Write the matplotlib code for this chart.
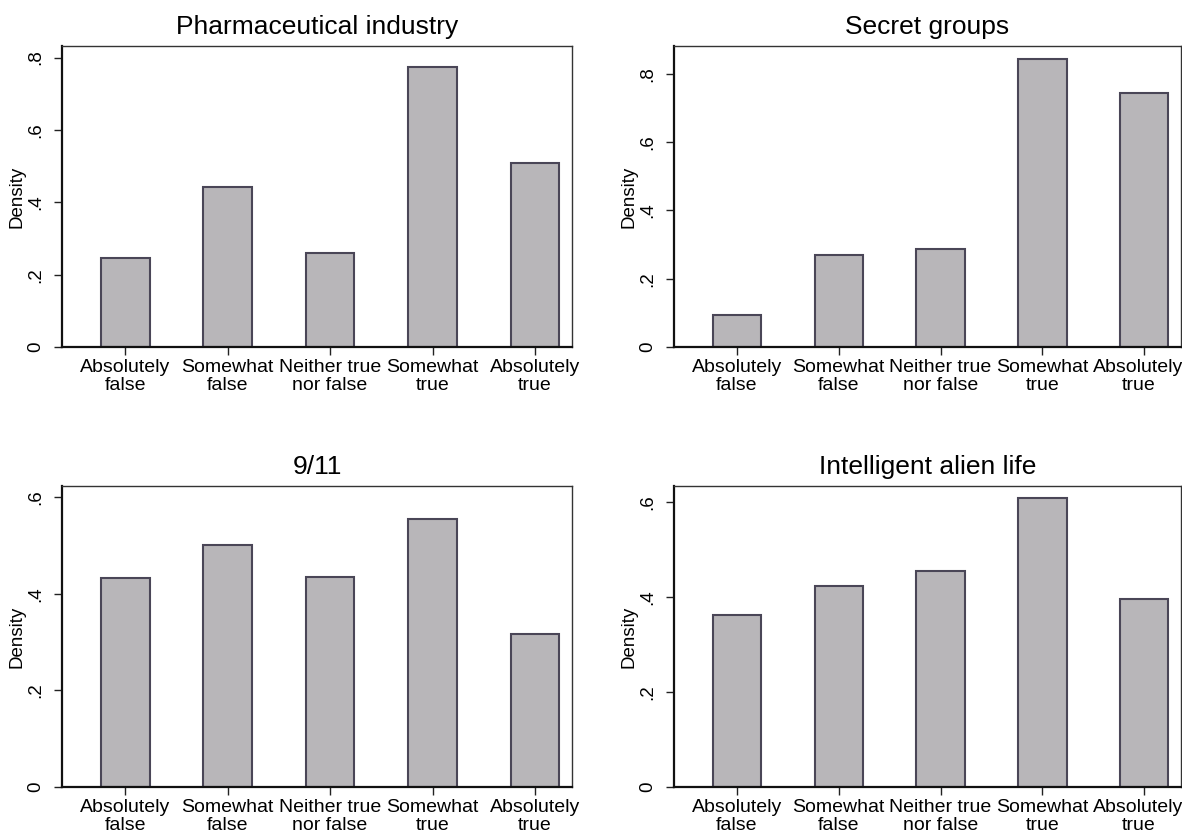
import matplotlib
matplotlib.use("Agg")
import matplotlib.pyplot as plt
from matplotlib.transforms import ScaledTranslation

plt.rcParams["font.family"] = ["Liberation Sans", "DejaVu Sans"]

# ------------------------------------------------------------------
# Data
# ------------------------------------------------------------------
categories = ["Absolutely\nfalse", "Somewhat\nfalse", "Neither true\nnor false",
              "Somewhat\ntrue", "Absolutely\ntrue"]
positions = [1, 2, 3, 4, 5]

titles = ["Pharmaceutical industry", "Secret groups", "9/11", "Intelligent alien life"]
pharma = [0.247, 0.443, 0.260, 0.775, 0.509]
secret = [0.094, 0.269, 0.288, 0.844, 0.744]
nine_eleven = [0.433, 0.501, 0.435, 0.554, 0.317]
alien = [0.363, 0.423, 0.455, 0.608, 0.397]

y_ticks = [[0, 0.2, 0.4, 0.6, 0.8], [0, 0.2, 0.4, 0.6, 0.8],
           [0, 0.2, 0.4, 0.6], [0, 0.2, 0.4, 0.6]]
y_tick_labels = [["0", ".2", ".4", ".6", ".8"], ["0", ".2", ".4", ".6", ".8"],
                 ["0", ".2", ".4", ".6"], ["0", ".2", ".4", ".6"]]
y_max = [0.832, 0.881, 0.623, 0.634]

# ------------------------------------------------------------------
# Layout (pixel boxes converted to figure fractions)
# ------------------------------------------------------------------
W, H = 1182, 832
boxes = [  # left, right, top, bottom in pixels
    (62, 572, 46, 347),
    (674, 1181, 46, 347),
    (62, 572, 486, 787),
    (674, 1181, 486, 787),
]

BAR_FILL = "#b8b6b9"
BAR_EDGE = "#4a4657"

fig = plt.figure(figsize=(W / 100, H / 100), dpi=100)

for i, values in enumerate([pharma, secret, nine_eleven, alien]):
    l, r, t, b = boxes[i]
    ax = fig.add_axes([l / W, 1 - b / H, (r - l) / W, (b - t) / H])

    ax.bar(positions, values, width=0.475, color=BAR_FILL,
           edgecolor=BAR_EDGE, linewidth=1.5, zorder=2)

    ax.set_xlim(0.382, 5.362)
    ax.set_ylim(0, y_max[i])

    ax.set_xticks(positions)
    ax.set_xticklabels(categories, fontsize=14, linespacing=1.02)
    ax.set_yticks(y_ticks[i])
    ax.set_yticklabels(y_tick_labels[i], fontsize=13.5, rotation=90, va="center")

    ax.tick_params(axis="x", direction="out", length=6, width=1.0, pad=3,
                   color="#222222")
    ax.tick_params(axis="y", direction="out", length=6, width=1.0, pad=7,
                   color="#222222")

    # right-hand panels: last label nudged left so it stays inside the image
    if l > W / 2:
        lab = ax.get_xticklabels()[-1]
        lab.set_transform(lab.get_transform()
                          + ScaledTranslation(-6 / 100, 0, fig.dpi_scale_trans))

    ax.set_ylabel("Density", fontsize=13.5, labelpad=1)
    ax.set_title(titles[i], fontsize=19, pad=8.5)

    for side in ("left", "bottom"):
        ax.spines[side].set_linewidth(1.6)
        ax.spines[side].set_color("#111111")
    for side in ("top", "right"):
        ax.spines[side].set_linewidth(1.0)
        ax.spines[side].set_color("#333333")

fig.savefig("out.png", dpi=100)
plt.close(fig)
